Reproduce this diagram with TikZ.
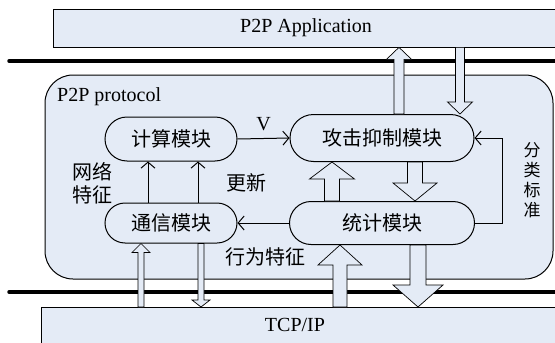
\documentclass[tikz,border=0pt]{standalone}
\usepackage{fontspec}
\setmainfont{Liberation Serif}
\newfontfamily\cjk{Noto Sans CJK SC}
\usetikzlibrary{positioning,calc,shapes.misc,arrows.meta}
\definecolor{boxfill}{RGB}{228,235,246}

\newcommand{\hollowarrow}[5]{%
  \draw[hollow] let \p1=(#1), \p2=(#2),
    \n1={atan2(\y2-\y1,\x2-\x1)}, \n2={veclen(\x2-\x1,\y2-\y1)},
    \n3={\n2-#5} in
    [shift={(\p1)}, rotate=\n1]
    (0pt,-#3pt) -- (\n3,-#3pt) -- (\n3,-#4pt) -- (\n2,0pt)
    -- (\n3,#4pt) -- (\n3,#3pt) -- (0pt,#3pt) -- cycle;}

\begin{document}
\begin{tikzpicture}
  [x=1pt,y=-1pt,
  layer/.style={rectangle,draw=black,fill=boxfill,line width=0.7pt,inner sep=0pt,font=\fontsize{20}{24}\selectfont},
  protobox/.style={rectangle,draw=black,fill=boxfill,line width=1pt,rounded corners=28pt,inner sep=0pt},
  module/.style={rounded rectangle,draw=black,fill=boxfill,line width=1pt,inner sep=0pt,font=\cjk\fontsize{20}{24}\selectfont},
  lbl/.style={inner sep=0pt,align=center,font=\cjk\fontsize{20}{23}\selectfont},
  txt/.style={inner sep=0pt,font=\fontsize{20}{24}\selectfont},
  bus/.style={line width=3.5pt,line cap=round},
  flow/.style={line width=1pt,-{Straight Barb[length=6pt,width=14pt]}},
  hollow/.style={draw=black,fill=boxfill,line width=0.7pt,line join=miter}]
  \clip (0,0) rectangle (555,343);

  \node[layer,minimum width=506pt,minimum height=38pt] (app) at (306,28) {P2P Application};
  \node[layer,minimum width=530pt,minimum height=50pt,anchor=north west] (tcp) at (41,307) {};
  \node[txt] (tcptext) at (295,325) {TCP/IP};

  \draw[bus] (9,61) -- (570,61);
  \draw[bus] (9,292) -- (570,292);

  \node[protobox,minimum width=508pt,minimum height=204pt] (proto) at (299,177) {};
  \node[txt,anchor=west] (protolbl) at (57,97) {P2P protocol};

  \node[module,minimum width=132pt,minimum height=44pt] (calc) at (171,139) {计算模块};
  \node[module,minimum width=132pt,minimum height=40pt] (comm) at (171,223) {通信模块};
  \node[module,minimum width=184pt,minimum height=47pt] (atk) at (382,138) {攻击抑制模块};
  \node[module,minimum width=185pt,minimum height=43pt] (stat) at (382,223) {统计模块};

  \draw[flow] (calc.east) -- (atk.west) node [midway,above=7pt,txt] {V};
  \draw[flow] ([xshift=-23pt]comm.north) -- ([xshift=-23pt]calc.south);
  \draw[flow] ([xshift=27pt]comm.north) -- ([xshift=27pt]calc.south);
  \draw[flow] (stat.west) -- (comm.east);
  \draw[flow] (stat.east) -- ++(27,0) |- (atk.east);

  \node[lbl] (netfeat) at (92,183) {网络\\特征};
  \node[lbl] (update) at (246,183) {更新};
  \node[lbl] (behav) at (265,257) {行为特征};
  \node[lbl,font=\cjk\fontsize{17}{20}\selectfont] (crit) at (532,180) {分\\类\\标\\准};

  \path (comm.south) ++(-30,0) coordinate (commin);
  \path (comm.south) ++(30,0) coordinate (commout);
  \path (stat.south) ++(-42,0) coordinate (statin);
  \path (stat.south) ++(36,0) coordinate (statout);
  \path (atk.north) ++(17,0) coordinate (atkout);
  \path (atk.north) ++(78,0) coordinate (atkin);

  \hollowarrow{atkout}{atkout |- app.south}{5}{12.5}{12}
  \hollowarrow{atkin |- app.south}{atkin}{4.5}{12.5}{12}
  \hollowarrow{[xshift=-50pt]stat.north}{[xshift=-50pt]atk.south}{7.5}{22.5}{17}
  \hollowarrow{[xshift=33pt]atk.south}{[xshift=33pt]stat.north}{7.5}{22}{18}
  \hollowarrow{commin |- tcp.north}{commin}{3}{9}{9}
  \hollowarrow{commout}{commout |- tcp.north}{3}{9}{7}
  \hollowarrow{statin |- tcp.north}{statin}{7}{22}{20}
  \hollowarrow{statout}{statout |- tcp.north}{8}{25}{22}
\end{tikzpicture}
\end{document}
